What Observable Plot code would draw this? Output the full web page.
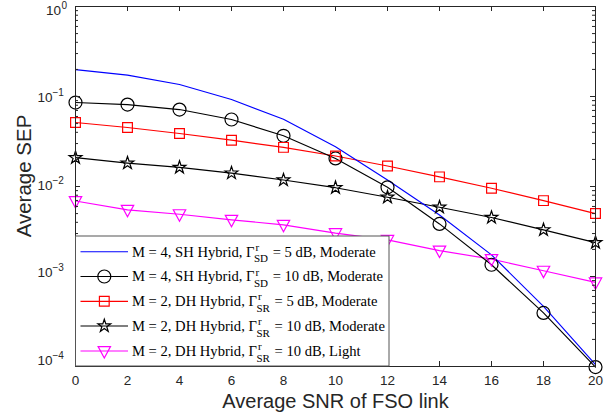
<!DOCTYPE html>
<html>
<head>
<meta charset="utf-8">
<script src="https://cdn.jsdelivr.net/npm/d3@7"></script>
<script src="https://cdn.jsdelivr.net/npm/@observablehq/plot@0.6"></script>
<style>
  body { margin: 0; background: #fff; }
  #chart svg { display: block; }
</style>
</head>
<body>
<div id="chart"></div>
<script>
// Average SNR of the FSO link (dB)
const snr = [0, 2, 4, 6, 8, 10, 12, 14, 16, 18, 20];

// Average SEP for each configuration
const sepSH5Moderate  = [0.199, 0.173, 0.136, 0.0925, 0.056, 0.0276, 0.0118, 0.00483, 0.00174, 0.000466, 0.000105];
const sepSH10Moderate = [0.0857, 0.0813, 0.0716, 0.0555, 0.0366, 0.0205, 0.0098, 0.00384, 0.00135, 0.000394, 0.0000985];
const sepDH5Moderate  = [0.0514, 0.0453, 0.0388, 0.0327, 0.0272, 0.0218, 0.0169, 0.0128, 0.00955, 0.00697, 0.0050];
const sepDH10Moderate = [0.0209, 0.0182, 0.0163, 0.0141, 0.0118, 0.0097, 0.0076, 0.00589, 0.00452, 0.0033, 0.00238];
const sepDH10Light    = [0.0069, 0.0055, 0.00492, 0.00426, 0.00375, 0.00303, 0.00255, 0.00194, 0.00156, 0.00116, 0.00086];

// Axis ticks
const xTicks = [0, 2, 4, 6, 8, 10, 12, 14, 16, 18, 20];
const yDecades = [1, 0.1, 0.01, 0.001, 0.0001];
const yExponents = ["0", "−1", "−2", "−3", "−4"];

// Legend entries: text before Γ, subscript, text after
const legendLead = ["M = 4, SH Hybrid, ", "M = 4, SH Hybrid, ", "M = 2, DH Hybrid, ", "M = 2, DH Hybrid, ", "M = 2, DH Hybrid, "];
const legendSub = ["SD", "SD", "SR", "SR", "SR"];
const legendTail = [" = 5 dB, Moderate", " = 10 dB, Moderate", " = 5 dB, Moderate", " = 10 dB, Moderate", " = 10 dB, Light"];

const W = 616, H = 417;
const mL = 75, mR = 21, mT = 6, mB = 51;
const fw = W - mL - mR, fh = H - mT - mB;
const axisColor = "#262626";

// Downward-pointing triangle marker
const triangleDown = {
  draw(ctx, size) {
    const r = Math.sqrt(size / Math.PI);
    ctx.moveTo(-r, -0.72 * r);
    ctx.lineTo(r, -0.72 * r);
    ctx.lineTo(0, 1.12 * r);
    ctx.closePath();
  }
};

const series = [
  {values: sepSH5Moderate,  color: "#0000ff", symbol: null,         r: 0},
  {values: sepSH10Moderate, color: "#000000", symbol: "circle",     r: 6.5},
  {values: sepDH5Moderate,  color: "#ff0000", symbol: "square",     r: 5.5},
  {values: sepDH10Moderate, color: "#000000", symbol: "star",       r: 4.0},
  {values: sepDH10Light,    color: "#ff00ff", symbol: triangleDown, r: 6.2}
];
const rowsOf = (s) => snr.map((x, i) => ({x, y: s.values[i]}));

// Minor ticks of the log axis
const yMinor = [];
for (let e = -4; e < 0; e++) for (let k = 2; k <= 9; k++) yMinor.push(k * Math.pow(10, e));

const marks = [];
// Curves: lines first, then markers; the blue curve is drawn over the black one
for (const i of [4, 3, 2, 1, 0]) {
  const s = series[i];
  marks.push(Plot.line(rowsOf(s), {x: "x", y: "y", stroke: s.color, strokeWidth: 1.15}));
}
for (const s of series) {
  if (!s.symbol) continue;
  marks.push(Plot.dot(rowsOf(s), {x: "x", y: "y", symbol: () => s.symbol, r: s.r, stroke: s.color, fill: "none", strokeWidth: 1.2}));
}
marks.push(
  Plot.frame({stroke: axisColor, strokeWidth: 1}),
  // inward ticks on all four sides
  Plot.tickY(yDecades, {y: d => d, insetRight: fw - 5, stroke: axisColor}),
  Plot.tickY(yDecades, {y: d => d, insetLeft: fw - 5, stroke: axisColor}),
  Plot.tickY(yMinor, {y: d => d, insetRight: fw - 3, stroke: axisColor}),
  Plot.tickY(yMinor, {y: d => d, insetLeft: fw - 3, stroke: axisColor}),
  Plot.tickX(xTicks, {x: d => d, insetTop: fh - 5, stroke: axisColor}),
  Plot.tickX(xTicks, {x: d => d, insetBottom: fh - 5, stroke: axisColor}),
  Plot.axisX(xTicks, {tickSize: 0, tickPadding: 9, label: null, fontSize: 13.5, color: axisColor}),
  // x axis title
  Plot.text(["Average SNR of FSO link"], {frameAnchor: "bottom", dy: 41, fontSize: 20, fill: axisColor})
);
// y tick labels: base "10" with a raised exponent, nudged the way the labels sit
const labelNudge = [4, 1, -1, -4, -6];
yDecades.forEach((d, i) => {
  const expX = i === 0 ? -14 : -23;
  const baseX = i === 0 ? -14.5 : -23;
  marks.push(
    Plot.text([d], {y: v => v, text: () => "10", frameAnchor: "left", textAnchor: "end", dx: baseX, dy: labelNudge[i], fontSize: 13.5, fill: axisColor}),
    Plot.text([d], {y: v => v, text: () => yExponents[i], frameAnchor: "left", textAnchor: "start", dx: expX, dy: labelNudge[i] - 5, fontSize: 10, fill: axisColor})
  );
});

const chart = Plot.plot({
  width: W,
  height: H,
  marginLeft: mL, marginRight: mR, marginTop: mT, marginBottom: mB,
  x: {domain: [0, 20], axis: null},
  y: {type: "log", domain: [1e-4, 1], axis: null},
  style: {fontFamily: "'Liberation Sans', Arial, sans-serif", background: "#fff", overflow: "visible"},
  marks
});
document.getElementById("chart").appendChild(chart);

const svg = d3.select(chart);

// y axis title
svg.append("text")
  .attr("transform", "translate(31,176) rotate(-90)")
  .attr("text-anchor", "middle")
  .attr("font-size", 20.5)
  .attr("fill", axisColor)
  .text("Average SEP");

// Legend box in the lower-left corner of the axes
const lg = svg.append("g")
  .attr("font-family", "'Liberation Serif', 'Times New Roman', serif")
  .attr("text-anchor", "start");
const boxX = 75.5, boxY = 236, boxW = 313.5, boxH = 130;
lg.append("rect").attr("x", boxX).attr("y", boxY).attr("width", boxW).attr("height", boxH)
  .attr("fill", "#fff").attr("stroke", "#555").attr("stroke-width", 1);
const rowY = [251.7, 276.5, 301.3, 326, 351];
series.forEach((s, i) => {
  const y = rowY[i];
  lg.append("line").attr("x1", 80.5).attr("x2", 128).attr("y1", y).attr("y2", y)
    .attr("stroke", s.color).attr("stroke-width", 1.15);
  if (s.symbol) {
    const type = s.symbol === "circle" ? d3.symbolCircle
      : s.symbol === "square" ? d3.symbolSquare
      : s.symbol === "star" ? d3.symbolStar : s.symbol;
    lg.append("path").attr("transform", `translate(104.3,${y})`)
      .attr("d", d3.symbol(type, Math.PI * s.r * s.r)())
      .attr("fill", "none").attr("stroke", s.color).attr("stroke-width", 1.2);
  }
  const x0 = 132;
  const t1 = lg.append("text").attr("x", x0).attr("y", y + 4.8).attr("font-size", 14.6).attr("fill", "#000")
    .text(legendLead[i] + "Γ");
  const w1 = t1.node().getComputedTextLength();
  const sup = lg.append("text").attr("x", x0 + w1 + 1).attr("y", y - 1).attr("font-size", 11).attr("fill", "#000").text("r");
  const sub = lg.append("text").attr("x", x0 + w1 - 0.5).attr("y", y + 10.5).attr("font-size", 11).attr("fill", "#000").text(legendSub[i]);
  const w2 = Math.max(sup.node().getComputedTextLength() + 1, sub.node().getComputedTextLength() - 0.5);
  lg.append("text").attr("x", x0 + w1 + w2 + 1).attr("y", y + 4.8).attr("font-size", 14.6).attr("fill", "#000")
    .text(legendTail[i]);
});
</script>
</body>
</html>
